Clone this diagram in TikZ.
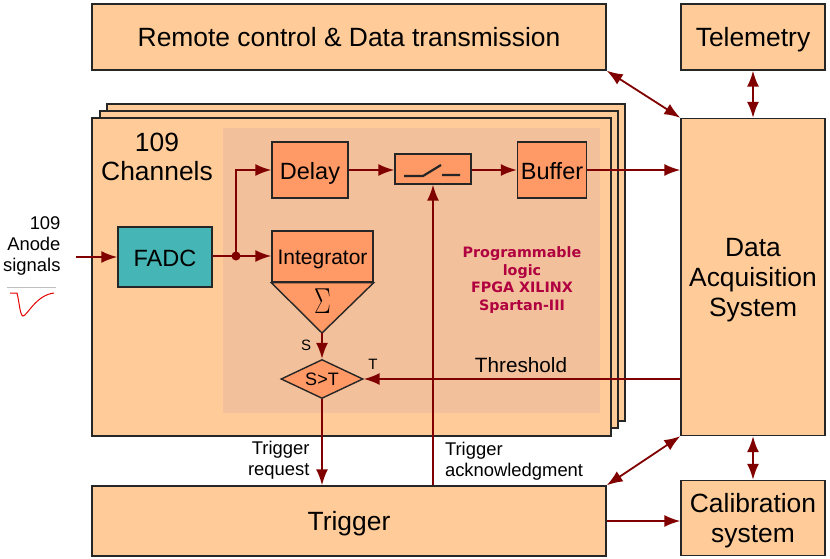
\documentclass[tikz,border=0pt]{standalone}
\usepackage{fontspec}
\setmainfont{Liberation Sans}
\newfontfamily\logicfont{DejaVu Sans}
\usetikzlibrary{positioning,calc,shapes.geometric,arrows.meta}
\definecolor{panel}{RGB}{255,204,153}
\definecolor{logicbg}{RGB}{242,192,154}
\definecolor{blockfill}{RGB}{255,153,102}
\definecolor{tealfill}{RGB}{69,181,181}
\definecolor{wire}{RGB}{128,0,0}
\definecolor{logictext}{RGB}{176,0,64}
\tikzset{panelbox/.style={draw=black!85,line width=1.4pt,fill=panel,inner sep=0pt,align=center},
         block/.style={draw=black!85,line width=1.4pt,fill=blockfill,inner sep=0pt,align=center},
         line/.style={wire,line width=1.8pt,-{Latex[length=16pt,width=12pt]}},
         biline/.style={wire,line width=1.8pt,{Latex[length=16pt,width=12pt]}-{Latex[length=16pt,width=12pt]}},
         plain/.style={wire,line width=1.8pt},
         bigtext/.style={font=\fontsize{26.4}{30}\selectfont,text depth=0pt},
         midtext/.style={font=\fontsize{23.5}{27}\selectfont,text height=19pt,text depth=1pt},
         smalltext/.style={font=\fontsize{18.4}{21}\selectfont}
}
\begin{document}
\begin{tikzpicture}[x=1pt,y=1pt,yscale=-1,xscale=1]
\useasboundingbox (0,0) rectangle (830,559);

% outer boxes
\node (remote) [panelbox,bigtext,minimum width=514pt,minimum height=66pt] at (349,37) {Remote control \& Data transmission};
\node (telemetry) [panelbox,bigtext,minimum width=144pt,minimum height=66pt] at (753,37) {Telemetry};
\node (daq) [panelbox,bigtext,minimum width=144pt,minimum height=317pt] at (753,277) {Data\\Acquisition\\System};
\node (calib) [panelbox,bigtext,minimum width=144pt,minimum height=75pt] at (753,518) {Calibration\\system};
\node (trigger) [panelbox,bigtext,minimum width=514pt,minimum height=70pt] at (349,521) {Trigger};

% stacked channel boards
\node (board3) [panelbox,minimum width=518pt,minimum height=317pt] at (366,262.5) {};
\node (board2) [panelbox,minimum width=518pt,minimum height=317pt] at (359,269.5) {};
\node (board1) [panelbox,minimum width=519pt,minimum height=318pt] at (351.5,277) {};
\node (logic) [fill=logicbg,inner sep=0pt,minimum width=377pt,minimum height=285pt] at (411.5,270.5) {};
\node (channels) [font=\fontsize{26.4}{29}\selectfont,align=center] at (157,157) {109\\Channels};
\node (logiclabel) [font=\logicfont\bfseries\fontsize{14.3}{17.6}\selectfont,text=logictext,align=center] at (522,280) {Programmable\\logic\\FPGA XILINX\\Spartan-III};

% blocks on the board
\node (fadc) [block,fill=tealfill,midtext,minimum width=94pt,minimum height=60pt] at (165,257) {FADC};
\node (delay) [block,midtext,minimum width=76pt,minimum height=56pt] at (310,170) {Delay};
\node (switch) [block,minimum width=76pt,minimum height=30pt] at (433,169) {};
\node (buffer) [block,midtext,minimum width=69pt,minimum height=56pt] at (552,170) {Buffer};
\node (integ) [block,font=\fontsize{21}{24}\selectfont,text height=17pt,text depth=1pt,minimum width=101pt,minimum height=51pt] at (322.5,256.5) {Integrator};
\coordinate (sumtip) at (322,333);
\draw [block] (integ.south west) -- (integ.south east) -- (sumtip) -- cycle;
\node (sum) [yscale=1.45] at (322.5,301) {\LARGE\fontsize{24.88}{24.88}\selectfont$\Sigma$};
\node (cmp) [block,diamond,aspect=2.1,font=\fontsize{18}{20}\selectfont,minimum width=82pt,minimum height=39pt] at (322,379) {S>T};

% switch contacts
\coordinate (swa) at (404,176);
\coordinate (swb) at (423,176);
\coordinate (swc) at (441,165);
\coordinate (swd) at (442,175);
\coordinate (swe) at (460,175);
\draw [black!85,line width=2.2pt] (swa) -- (swb) -- (swc) (swd) -- (swe);

% signal paths
\coordinate (anode) at (76,257);
\coordinate (branch) at (236,256);
\draw [line] (anode) -- (fadc.west);
\draw [plain] (fadc.east |- branch) -- (branch);
\fill [wire] (branch) circle (4.5pt);
\draw [line] (branch) |- (delay.west);
\draw [line] (branch) -- (integ.west |- branch);
\draw [line] (delay.east) -- (switch.west |- delay.east);
\draw [line] (switch.east |- delay.east) -- (buffer.west);
\draw [line] (buffer.east) -- (daq.west |- buffer.east);
\draw [line] (sumtip) -- (cmp.north);
\draw [line] (daq.west |- cmp.east) -- (cmp.east);
\draw [line] (cmp.south) -- (trigger.north -| cmp.south);
\coordinate (ackfoot) at (trigger.north -| switch.south);
\draw [line] (ackfoot) -- (switch.south);
\draw [line] (trigger.east) -- (calib.west |- trigger.east);

% links to the acquisition system
\draw [biline] (remote.south east) -- (daq.north west);
\draw [biline] (telemetry.south) -- (daq.north -| telemetry.south);
\draw [biline] (trigger.north east) -- (daq.south west);
\draw [biline] (daq.south) -- (calib.north);

% labels
\node (anodelabel) [smalltext,align=right,anchor=east] at (64,246) {109\\Anode\\signals};
\node (slabel) [font=\fontsize{15}{18}\selectfont] at (306,345) {S};
\node (tlabel) [font=\fontsize{15}{18}\selectfont] at (373,364) {T};
\node (thresh) [font=\fontsize{20.7}{24}\selectfont] at (521,365) {Threshold};
\node (reqlabel) [smalltext,align=right,anchor=east] at (313,460) {Trigger\\request};
\node (acklabel) [smalltext,align=left,anchor=west] at (441.5,461) {Trigger\\acknowledgment};

% anode pulse sketch
\coordinate (basea) at (7,287);
\coordinate (baseb) at (56,287);
\draw [black!25,line width=1pt] (basea) -- (baseb);
\draw [red!90!black,line width=1pt] (10,293) -- (17,293) .. controls (19,300) and (20,316) .. (23,316) .. controls (27,316) and (36,295) .. (54,293);
\end{tikzpicture}
\end{document}
